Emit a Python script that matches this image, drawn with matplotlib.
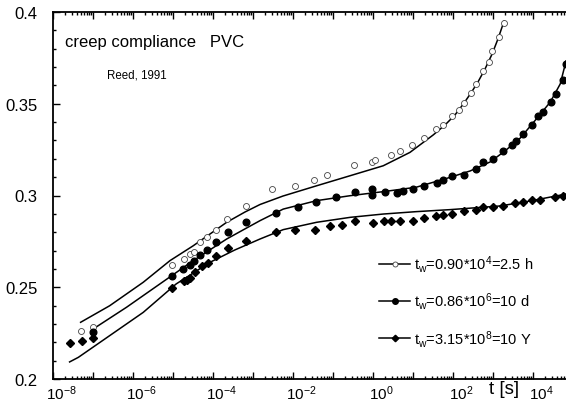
import numpy as np
import matplotlib
matplotlib.use('Agg')
import matplotlib.pyplot as plt
from matplotlib.ticker import LogLocator, MultipleLocator, FuncFormatter, NullFormatter
from matplotlib.transforms import ScaledTranslation

plt.rcParams['font.family'] = ['Liberation Sans', 'DejaVu Sans']
plt.rcParams['mathtext.default'] = 'regular'

# open circles, tw = 2.5 h
t_open = [4.9e-8, 1.0e-7, 9.3e-6, 1.9e-5, 2.6e-5, 3.3e-5, 4.7e-5, 7.1e-5, 1.2e-4, 2.3e-4,
          6.6e-4, 3.0e-3, 1.1e-2, 3.4e-2, 7.2e-2, 0.33, 0.95, 1.1, 2.9, 4.8,
          9.6, 19, 38, 56, 96, 141, 189, 282, 382, 570, 780, 950, 1440, 1900]
J_open = [0.2260, 0.2285, 0.2621, 0.2654, 0.2681, 0.2694, 0.2745, 0.2772, 0.2814, 0.2872,
          0.2944, 0.3035, 0.3053, 0.3083, 0.3113, 0.3165, 0.3184, 0.3192, 0.3222, 0.3244,
          0.3275, 0.3315, 0.3364, 0.3384, 0.3433, 0.3464, 0.3502, 0.3557, 0.3606, 0.3677,
          0.3726, 0.3786, 0.3865, 0.3938]
t_fit_open = [4.9e-8, 2.6e-7, 1.8e-6, 8.4e-6, 3.2e-5, 2.2e-4, 6.3e-4, 1.5e-3, 5.6e-3, 3.9e-2,
              0.27, 1.8, 8.4, 32, 63, 112, 189, 282, 422, 630, 950, 1330, 1900]
J_fit_open = [0.2309, 0.2399, 0.2527, 0.2645, 0.2726, 0.2854, 0.2910, 0.2951, 0.2997, 0.3053,
              0.3108, 0.3162, 0.3235, 0.3330, 0.3384, 0.3439, 0.3504, 0.3559, 0.3619, 0.3689,
              0.3771, 0.3853, 0.3951]

# filled circles, tw = 10 d
t_fill = [1.0e-7, 9.3e-6, 1.8e-5, 2.6e-5, 3.4e-5, 4.7e-5, 7.1e-5, 1.2e-4, 2.4e-4, 6.6e-4,
          3.7e-3, 1.3e-2, 3.7e-2, 0.12, 0.36, 0.95, 0.95, 2.0, 3.9, 5.7,
          9.8, 19, 39, 57, 96, 189, 382, 570, 980, 1800,
          2950, 3700, 5700, 9300, 1.35e4, 1.8e4, 2.8e4, 3.8e4, 5.5e4, 6.7e4]
J_fill = [0.2255, 0.2560, 0.2599, 0.2621, 0.2645, 0.2676, 0.2705, 0.2745, 0.2803, 0.2854,
          0.2903, 0.2936, 0.2966, 0.2993, 0.3017, 0.3035, 0.3004, 0.3017, 0.3014, 0.3026,
          0.3035, 0.3053, 0.3066, 0.3084, 0.3106, 0.3113, 0.3144, 0.3181, 0.3199, 0.3241,
          0.3275, 0.3299, 0.3335, 0.3384, 0.3435, 0.3457, 0.3511, 0.3555, 0.3629, 0.3717]
t_fit_fill = [1.0e-7, 6.9e-7, 4.7e-6, 3.2e-5, 2.2e-4, 6.3e-4, 1.5e-3, 5.7e-3, 3.9e-2, 0.27,
              1.8, 12, 85, 270, 850, 2000, 4800, 1.1e4, 2.7e4, 4.8e4, 6.7e4]
J_fit_fill = [0.2272, 0.2391, 0.2518, 0.2645, 0.2763, 0.2818, 0.2863, 0.2926, 0.2972, 0.2999,
              0.3021, 0.3045, 0.3099, 0.3134, 0.3183, 0.3243, 0.3313, 0.3406, 0.3509, 0.3608,
              0.3733]

# diamonds, tw = 10 Y
t_dia = [2.7e-8, 5.2e-8, 1.0e-7, 9.3e-6, 1.9e-5, 2.2e-5, 2.7e-5, 3.5e-5, 5.2e-5, 7.4e-5,
         1.2e-4, 2.4e-4, 6.6e-4, 3.7e-3, 1.1e-2, 3.5e-2, 8.4e-2, 0.17, 0.36, 1.0,
         1.9, 2.9, 4.7, 9.8, 19, 38, 56, 96, 189, 382,
         570, 980, 1800, 3500, 5700, 9300, 1.5e4, 3.5e4, 5.7e4]
J_dia = [0.2195, 0.2209, 0.2222, 0.2494, 0.2532, 0.2541, 0.2549, 0.2581, 0.2614, 0.2632,
         0.2672, 0.2714, 0.2754, 0.2803, 0.2814, 0.2812, 0.2832, 0.2841, 0.2863, 0.2850,
         0.2863, 0.2863, 0.2863, 0.2863, 0.2876, 0.2887, 0.2894, 0.2901, 0.2914, 0.2923,
         0.2936, 0.2936, 0.2944, 0.2959, 0.2966, 0.2977, 0.2977, 0.2990, 0.2999]
t_fit_dia = [2.6e-8, 4.3e-8, 2.6e-7, 1.8e-6, 1.2e-5, 8.4e-5, 3.5e-4, 1.5e-3, 5.7e-3, 3.9e-2,
             0.27, 1.8, 12, 85, 1500, 8400, 6.7e4]
J_fit_dia = [0.2093, 0.2118, 0.2236, 0.2363, 0.2518, 0.2636, 0.2703, 0.2763, 0.2814, 0.2854,
             0.2881, 0.2899, 0.2912, 0.2923, 0.2943, 0.2970, 0.3008]

labels = ['$t_w$=0.90*10$^4$=2.5 h', '$t_w$=0.86*10$^6$=10 d', '$t_w$=3.15*10$^8$=10 Y']

fig = plt.figure(figsize=(5.66, 4.06), dpi=100)
ax = fig.add_axes([53/566, 26/406, 520/566, 367/406])

ax.plot(t_fit_open, J_fit_open, '-', color='black', lw=1.1)
ax.plot(t_fit_fill, J_fit_fill, '-', color='black', lw=1.1)
ax.plot(t_fit_dia, J_fit_dia, '-', color='black', lw=1.1)
ax.plot(t_open, J_open, 'o', ms=4.3, mfc='white', mec='#444444', mew=0.6, ls='none')
ax.plot(t_fill, J_fill, 'o', ms=4.8, color='black', ls='none')
ax.plot(t_dia, J_dia, 'D', ms=3.8, color='black', ls='none')

# legend handles: line with marker
h1, = ax.plot([], [], '-o', color='black', lw=1.1, ms=3.6, mfc='white', mec='#444444', mew=0.6)
h2, = ax.plot([], [], '-o', color='black', lw=1.1, ms=4)
h3, = ax.plot([], [], '-D', color='black', lw=1.1, ms=3.3)
ax.legend([h1, h2, h3], labels, loc='center left', bbox_to_anchor=(372/566, 1 - 302/406),
          bbox_transform=fig.transFigure, frameon=False, fontsize=10.5,
          handlelength=2.1, handletextpad=0.25, labelspacing=1.1, borderpad=0)

ax.set_xscale('log')
ax.set_xlim(1e-8, 1e5)
ax.set_ylim(0.2, 0.4)

ax.xaxis.set_major_locator(LogLocator(base=10, numticks=30))
ax.xaxis.set_minor_locator(LogLocator(base=10, subs=np.arange(2, 10), numticks=30))
ax.xaxis.set_minor_formatter(NullFormatter())

def xfmt(v, pos):
    e = int(round(np.log10(v)))
    if e % 2 == 0 and e < 5:
        return '$10^{%d}$' % e
    return ''

ax.xaxis.set_major_formatter(FuncFormatter(xfmt))
ax.yaxis.set_major_locator(MultipleLocator(0.05))
ax.yaxis.set_minor_locator(MultipleLocator(0.01))
ax.yaxis.set_major_formatter(FuncFormatter(lambda v, p: '%g' % round(v, 3)))

ax.tick_params(which='both', direction='in', top=True, right=True, width=1.0)
ax.tick_params(which='major', length=5)
ax.tick_params(which='minor', length=2.5)
ax.tick_params(axis='x', labelsize=11, pad=3)
ax.tick_params(axis='y', labelsize=12, pad=11)
for sp in ax.spines.values():
    sp.set_linewidth(1.3)

off = ScaledTranslation(0.08, 0, fig.dpi_scale_trans)
for lab in ax.get_xticklabels():
    lab.set_transform(lab.get_transform() + off)

fig.text(504/566, 1 - 390/406, 't [s]', fontsize=13.5, ha='center', va='center')
fig.text(65/566, 1 - 47/406, 'creep compliance   PVC', fontsize=12, ha='left', va='baseline')
fig.text(107/566, 1 - 79/406, 'Reed, 1991', fontsize=8.3, ha='left', va='baseline')

fig.savefig('out.png', dpi=100)
